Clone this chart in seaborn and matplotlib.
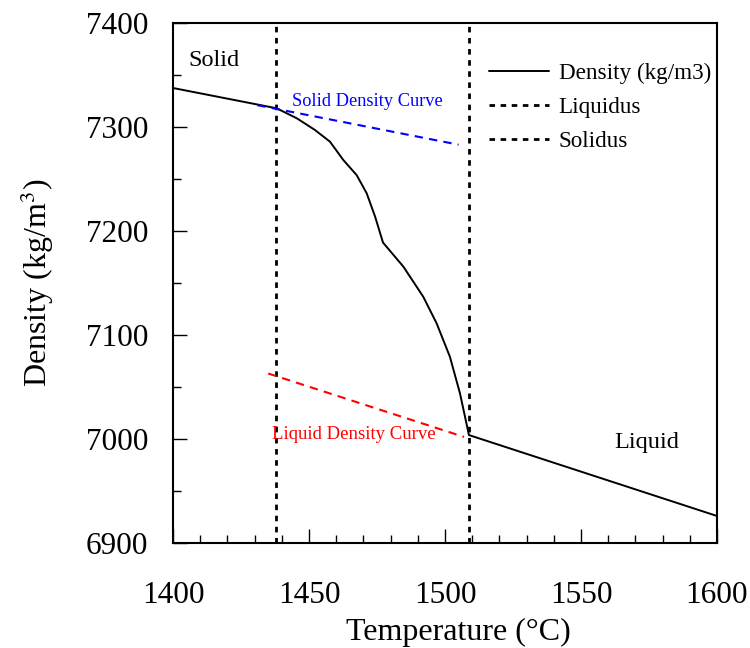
import matplotlib
matplotlib.use("Agg")
import matplotlib.pyplot as plt
import seaborn as sns
import pandas as pd
from matplotlib.ticker import MultipleLocator

sns.set_theme(style="white")
plt.rcParams['font.family'] = ['Liberation Serif', 'DejaVu Serif']
plt.rcParams['mathtext.fontset'] = 'stix'
plt.rcParams['text.color'] = 'black'
plt.rcParams['axes.labelcolor'] = 'black'
plt.rcParams['xtick.color'] = 'black'
plt.rcParams['ytick.color'] = 'black'

# Density curve data
temperature = [1400, 1438.1, 1445.5, 1452.2, 1457.7, 1462.6, 1467.5, 1471.2, 1474.3,
               1477.2, 1484.7, 1492.0, 1496.9, 1501.8, 1505.5, 1508.8, 1600]
density = [7337.5, 7318.0, 7308.4, 7297.1, 7285.9, 7268.3, 7253.8, 7236.3, 7213.8,
           7188.9, 7165.7, 7136.8, 7111.3, 7079.1, 7043.9, 7003.8, 6926.0]

liquidus_T = 1438
solidus_T = 1509

solid_curve_T = [1431, 1505]
solid_curve_D = [7321, 7283]
liquid_curve_T = [1435, 1507]
liquid_curve_D = [7063, 7002]

df = pd.DataFrame({"T": temperature, "D": density})

fig = plt.figure(figsize=(7.5, 6.48), dpi=100)
ax = fig.add_axes([0.2307, 0.162, 0.7253, 0.8025])

sns.lineplot(data=df, x="T", y="D", ax=ax, color="black", lw=1.4,
             label="Density (kg/m3)", sort=False)
ax.axvline(liquidus_T, color="black", ls=(0, (2, 2)), lw=2, label="Liquidus")
ax.axvline(solidus_T, color="black", ls=(0, (2, 2)), lw=2, label="Solidus")
sns.lineplot(x=solid_curve_T, y=solid_curve_D, ax=ax, color="blue",
             ls=(0, (4, 3)), lw=1.5, legend=False)
sns.lineplot(x=liquid_curve_T, y=liquid_curve_D, ax=ax, color="red",
             ls=(0, (4, 3)), lw=1.5, legend=False)

ax.text(1405.5, 7364, "Solid", fontsize=17.5, va="center", ha="left")
ax.text(1574.3, 6997, "Liquid", fontsize=17.5, va="center", ha="center")
ax.text(1471.5, 7325, "Solid Density Curve", fontsize=13.2, color="blue",
        va="center", ha="center")
ax.text(1466.4, 7004, "Liquid Density Curve", fontsize=13.5, color="red",
        va="center", ha="center")

ax.set_xlim(1400, 1600)
ax.set_ylim(6900, 7400)
ax.xaxis.set_major_locator(MultipleLocator(50))
ax.xaxis.set_minor_locator(MultipleLocator(10))
ax.yaxis.set_major_locator(MultipleLocator(100))
ax.yaxis.set_minor_locator(MultipleLocator(50))
ax.tick_params(which="both", direction="in", top=False, right=False,
               bottom=True, left=True, labelsize=22.5, width=1, color="black")
ax.tick_params(which="major", length=10)
ax.tick_params(which="minor", length=6)
ax.tick_params(axis="x", pad=27)
ax.tick_params(axis="y", pad=18)
for s in ax.spines.values():
    s.set_color("black")
    s.set_linewidth(1.5)

ax.set_xlabel("Temperature (°C)", fontsize=23, labelpad=6)
ax.xaxis.label.set_x(0.524)
ax.set_ylabel("Density (kg/m$^3$)", fontsize=23, labelpad=21)

leg = ax.legend(loc="upper left", frameon=False, fontsize=16.7,
                handlelength=2.6, handletextpad=0.4,
                bbox_to_anchor=(0.581, 0.923), borderaxespad=0, borderpad=0,
                labelspacing=0.55)

fig.savefig("out.png", dpi=100)
